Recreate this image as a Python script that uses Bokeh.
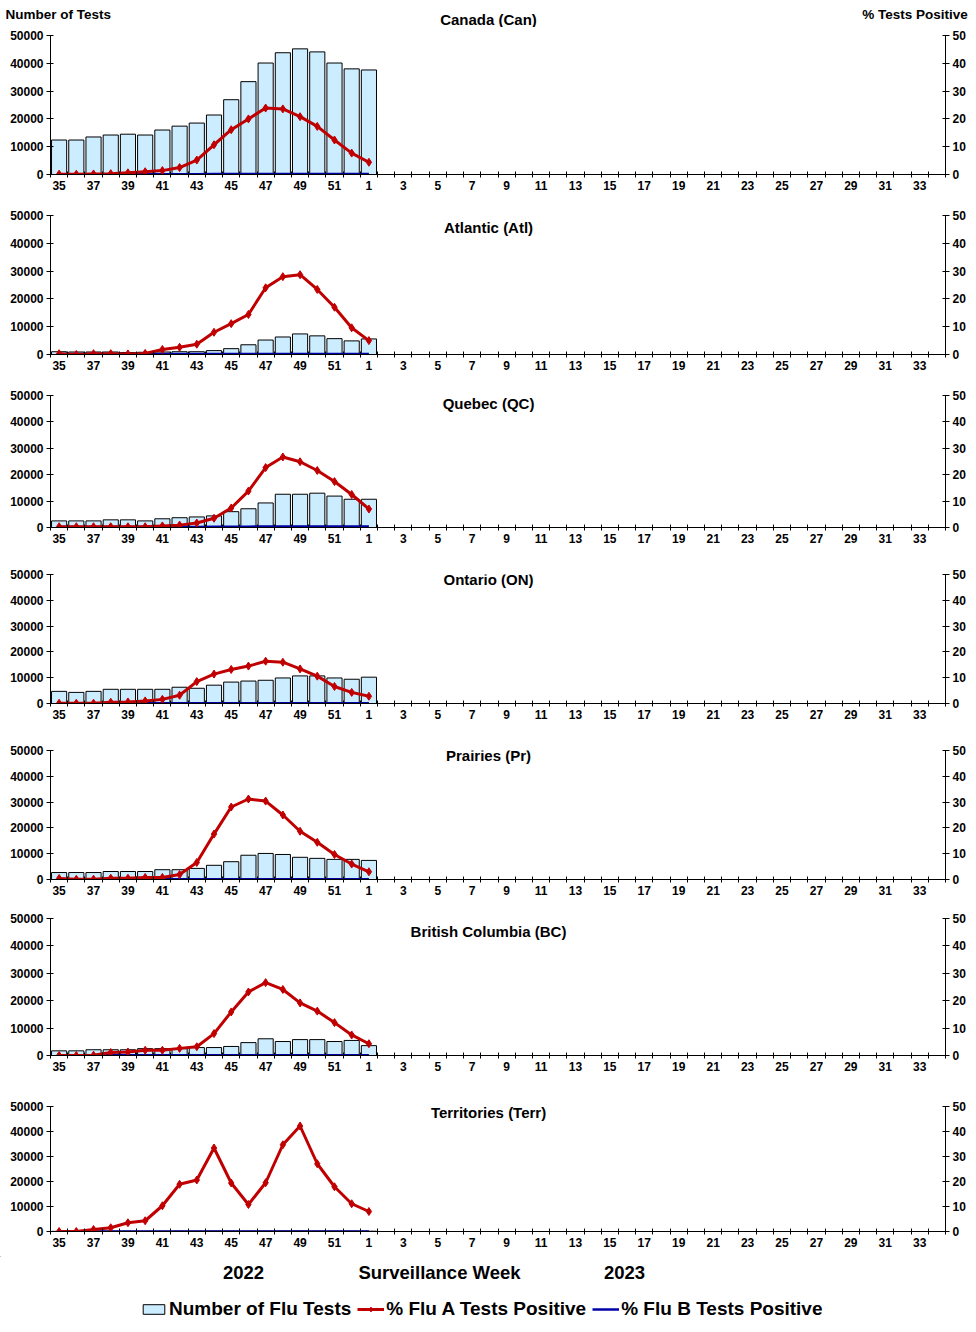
from bokeh.plotting import figure
from bokeh.models import Range1d, LinearAxis, FixedTicker, Label, Legend, LegendItem
from bokeh.layouts import column
from bokeh.embed import file_html
from bokeh.resources import INLINE

FONT = "Liberation Sans"

# ---------------- data ----------------
weeks = list(range(35, 53)) + list(range(1, 35))
tick_labels = {i: str(w) for i, w in enumerate(weeks) if i % 2 == 0}

regions = ["Canada (Can)", "Atlantic (Atl)", "Quebec (QC)", "Ontario (ON)",
           "Prairies (Pr)", "British Columbia (BC)", "Territories (Terr)"]

tests_can = [12400, 12400, 13500, 14200, 14500, 14200, 16000, 17400, 18500, 21400,
             26900, 33400, 40100, 43800, 45200, 44100, 40100, 38000, 37600]
flua_can = [0.1, 0.1, 0.2, 0.3, 0.6, 1.0, 1.4, 2.5, 5.2, 10.7, 16.1, 20.0, 23.9, 23.6,
            20.8, 17.3, 12.4, 7.7, 4.4]
flub_can = [0.1, 0.1, 0.1, 0.1, 0.1, 0.1, 0.1, 0.1, 0.1, 0.2, 0.2, 0.2, 0.2, 0.2,
            0.2, 0.2, 0.2, 0.2, 0.2]

tests_atl = [1000, 900, 900, 900, 700, 800, 900, 1000, 1000, 1400, 2100, 3500, 5200,
             6300, 7400, 6700, 5700, 4900, 5600]
flua_atl = [0.3, 0.0, 0.3, 0.3, 0.2, 0.4, 1.8, 2.6, 3.7, 8.0, 11.1, 14.4, 24.0, 28.0,
            28.7, 23.4, 17.0, 9.6, 5.0]
flub_atl = [0.2, 0.2, 0.2, 0.2, 0.2, 0.2, 0.2, 0.2, 0.2, 0.2, 0.2, 0.2, 0.2, 0.2,
            0.2, 0.2, 0.2, 0.2, 0.2]

tests_qc = [2500, 2500, 2500, 2900, 2900, 2500, 3300, 3700, 4000, 4400, 6000, 7100,
            9300, 12600, 12600, 13000, 11900, 10700, 10700]
flua_qc = [0.3, 0.3, 0.3, 0.3, 0.3, 0.3, 0.6, 0.9, 1.7, 3.5, 7.4, 13.8, 22.7, 26.7,
           24.9, 21.6, 17.4, 12.5, 7.0]
flub_qc = [0.2, 0.2, 0.2, 0.2, 0.2, 0.2, 0.2, 0.2, 0.2, 0.3, 0.3, 0.3, 0.4, 0.4,
           0.4, 0.4, 0.4, 0.4, 0.4]

tests_on = [4700, 4300, 4700, 5500, 5500, 5500, 5500, 6300, 5900, 7100, 8300, 8700,
            9000, 9900, 10700, 10700, 9900, 9400, 10200]
flua_on = [0.1, 0.1, 0.1, 0.5, 0.6, 1.0, 1.6, 3.2, 8.5, 11.4, 13.2, 14.5, 16.4, 16.0,
           13.4, 10.6, 6.6, 4.3, 2.8]
flub_on = [0.1, 0.1, 0.1, 0.1, 0.1, 0.1, 0.1, 0.1, 0.1, 0.1, 0.1, 0.1, 0.1, 0.1,
           0.1, 0.1, 0.1, 0.1, 0.1]

tests_pr = [2700, 2700, 2700, 3100, 3100, 3100, 3800, 3800, 4300, 5500, 6900, 9400,
            10100, 9700, 8600, 8200, 7800, 7800, 7400]
flua_pr = [0.4, 0.1, 0.1, 0.5, 0.5, 0.8, 0.8, 1.9, 6.6, 17.6, 28.1, 31.2, 30.4, 25.0,
           18.7, 14.4, 9.7, 6.0, 3.0]
flub_pr = [0.1, 0.1, 0.1, 0.1, 0.1, 0.1, 0.1, 0.1, 0.1, 0.1, 0.1, 0.1, 0.1, 0.1,
           0.1, 0.1, 0.1, 0.1, 0.1]

tests_bc = [1700, 1700, 2100, 2100, 2100, 2500, 2500, 2500, 2900, 2900, 3300, 4700,
            6100, 5100, 5800, 5800, 5100, 5500, 3600]
flua_bc = [0.0, 0.0, 0.1, 1.1, 1.3, 1.9, 1.9, 2.6, 3.2, 8.0, 15.9, 23.2, 26.6, 24.1,
           19.2, 16.2, 12.0, 7.5, 4.3]
flub_bc = [0.1, 0.1, 0.1, 0.1, 0.1, 0.1, 0.1, 0.1, 0.1, 0.1, 0.1, 0.1, 0.1, 0.1,
           0.1, 0.1, 0.1, 0.1, 0.1]

tests_terr = [60, 50, 70, 80, 90, 80, 100, 110, 120, 150, 140, 130, 160, 170, 180,
              150, 140, 130, 120]
flua_terr = [0.0, 0.0, 0.8, 1.5, 3.5, 4.3, 10.3, 18.9, 20.6, 33.4, 19.4, 10.8, 19.5,
             34.7, 42.2, 27.1, 17.9, 11.1, 8.0]
flub_terr = [0.0, 0.0, 0.0, 0.0, 0.0, 0.0, 0.0, 0.0, 0.0, 0.0, 0.0, 0.0, 0.0, 0.0,
             0.0, 0.0, 0.0, 0.0, 0.0]

series = [
    (tests_can, flua_can, flub_can),
    (tests_atl, flua_atl, flub_atl),
    (tests_qc, flua_qc, flub_qc),
    (tests_on, flua_on, flub_on),
    (tests_pr, flua_pr, flub_pr),
    (tests_bc, flua_bc, flub_bc),
    (tests_terr, flua_terr, flub_terr),
]

legend_labels = ["Number of Flu Tests", "% Flu A Tests Positive", "% Flu B Tests Positive"]

# ---------------- style ----------------
BAR_FILL = "#CCECFF"
RED = "#C00000"
BLUE = "#0000A8"

PAGE_W = 976
HEADER_H = 27
FOOTER_H = 76

# (top border, frame height, bottom border, title offset from frame top in px)
geom = [
    (8, 139, 25, None),
    (16, 139, 25, 12),
    (16, 132, 25, 8),
    (22, 129, 25, 5),
    (22, 129, 25, 5),
    (14, 137, 25, 13),
    (26, 125, 25, 6),
]

FRAME_W = 895
LEFT = 50
RIGHT = PAGE_W - LEFT - FRAME_W
NX = len(weeks)


def style_axis(ax):
    ax.axis_line_color = "black"
    ax.axis_line_width = 1
    ax.major_label_text_font = FONT
    ax.major_label_text_font_style = "bold"
    ax.major_label_text_font_size = "12px"
    ax.major_label_text_color = "black"
    ax.major_tick_line_color = "black"


def text_label(x, y, text, size, align="center"):
    return Label(x=x, y=y, text=text, text_align=align, text_baseline="middle",
                 text_font=FONT, text_font_style="bold", text_font_size=size,
                 text_color="black")


# ---------------- header ----------------
h = figure(width=PAGE_W, height=HEADER_H, x_range=Range1d(0, PAGE_W),
           y_range=Range1d(HEADER_H, 0), x_axis_type=None, y_axis_type=None,
           min_border=0, toolbar_location=None, output_backend="svg", tools="")
h.frame_align = False
h.outline_line_color = None
h.grid.visible = False
h.add_layout(text_label(5, 14, "Number of Tests", "13.5px", "left"))
h.add_layout(text_label(488, 19, regions[0], "15px"))
h.add_layout(text_label(971, 14, "%  Tests Positive", "13.5px", "right"))

figs = [h]
for k, (name, (tests, flua, flub), (top_b, fh, bot_b, toff)) in enumerate(
        zip(regions, series, geom)):
    idx = list(range(len(tests)))
    p = figure(frame_width=FRAME_W, frame_height=fh,
               min_border_left=LEFT, min_border_right=RIGHT,
               min_border_top=top_b, min_border_bottom=bot_b,
               x_range=Range1d(-0.5, NX - 0.5), y_range=Range1d(0, 50000),
               toolbar_location=None, output_backend="svg", tools="")
    p.extra_y_ranges = {"pct": Range1d(0, 50)}
    p.outline_line_color = None
    p.grid.visible = False

    # x axis
    xa = p.xaxis[0]
    style_axis(xa)
    xa.ticker = FixedTicker(ticks=list(range(0, NX, 2)),
                            minor_ticks=[i - 0.5 for i in range(NX + 1)])
    xa.major_label_overrides = tick_labels
    xa.major_tick_line_color = None
    xa.major_tick_in = 0
    xa.major_tick_out = 3
    xa.minor_tick_line_color = "black"
    xa.minor_tick_in = 3
    xa.minor_tick_out = 3
    xa.major_label_standoff = 3

    # left axis
    ya = p.yaxis[0]
    style_axis(ya)
    yt = [0, 10000, 20000, 30000, 40000, 50000]
    ya.ticker = FixedTicker(ticks=yt)
    ya.major_label_overrides = {v: str(v) for v in yt}
    ya.minor_tick_line_color = None
    ya.major_tick_in = 3
    ya.major_tick_out = 4
    ya.major_label_standoff = 3

    # right axis
    ra = LinearAxis(y_range_name="pct",
                    ticker=FixedTicker(ticks=[0, 10, 20, 30, 40, 50]))
    style_axis(ra)
    ra.minor_tick_line_color = None
    ra.major_tick_in = 3
    ra.major_tick_out = 4
    ra.major_label_standoff = 3
    p.add_layout(ra, "right")

    # data
    p.vbar(x=idx, top=tests, width=0.88, bottom=0,
           fill_color=BAR_FILL, line_color="black", line_width=1)
    p.line(x=idx, y=flub, y_range_name="pct", line_color=BLUE, line_width=2.5)
    p.line(x=idx, y=flua, y_range_name="pct", line_color=RED, line_width=3)
    p.scatter(x=idx, y=flua, y_range_name="pct", marker="diamond", size=8,
              fill_color=RED, line_color=RED)

    if toff is not None:
        p.add_layout(text_label(24.95, 50000 - toff * 50000 / fh, name, "15px"))
    figs.append(p)

# ---------------- footer (axis caption + legend) ----------------
f = figure(width=PAGE_W, height=FOOTER_H, x_range=Range1d(0, PAGE_W),
           y_range=Range1d(FOOTER_H, 0), x_axis_type=None, y_axis_type=None,
           min_border=0, toolbar_location=None, output_backend="svg", tools="")
f.frame_align = False
f.outline_line_color = None
f.grid.visible = False

for xt, txt in [(243, "2022"), (439, "Surveillance Week"), (624, "2023")]:
    f.add_layout(text_label(xt, 16, txt, "18.5px"))

# legend sample glyphs (one sample far outside the canvas so the legend can draw icons)
r_bar = f.vbar(x=[-1000], top=[-1000], bottom=[-1001], width=1,
               fill_color=BAR_FILL, line_color="black")
r_la = f.line(x=[-1000, -990], y=[-1000, -1000], line_color=RED, line_width=3)
r_lm = f.scatter(x=[-1000], y=[-1000], marker="diamond", size=7,
                 fill_color=RED, line_color=RED)
r_lb = f.line(x=[-1000, -990], y=[-1000, -1000], line_color=BLUE, line_width=2.5)

legend = Legend(items=[
    LegendItem(label=legend_labels[0], renderers=[r_bar]),
    LegendItem(label=legend_labels[1], renderers=[r_la, r_lm]),
    LegendItem(label=legend_labels[2], renderers=[r_lb]),
], orientation="horizontal", location=(140, 12),
    glyph_width=27, glyph_height=12, label_standoff=2, spacing=6,
    padding=0, margin=0, border_line_color=None, background_fill_alpha=0,
    label_text_font=FONT, label_text_font_style="bold",
    label_text_font_size="19px", label_text_color="black")
f.add_layout(legend)
figs.append(f)

layout = column(*figs, spacing=0)

open("out.html", "w").write(file_html(layout, INLINE))
